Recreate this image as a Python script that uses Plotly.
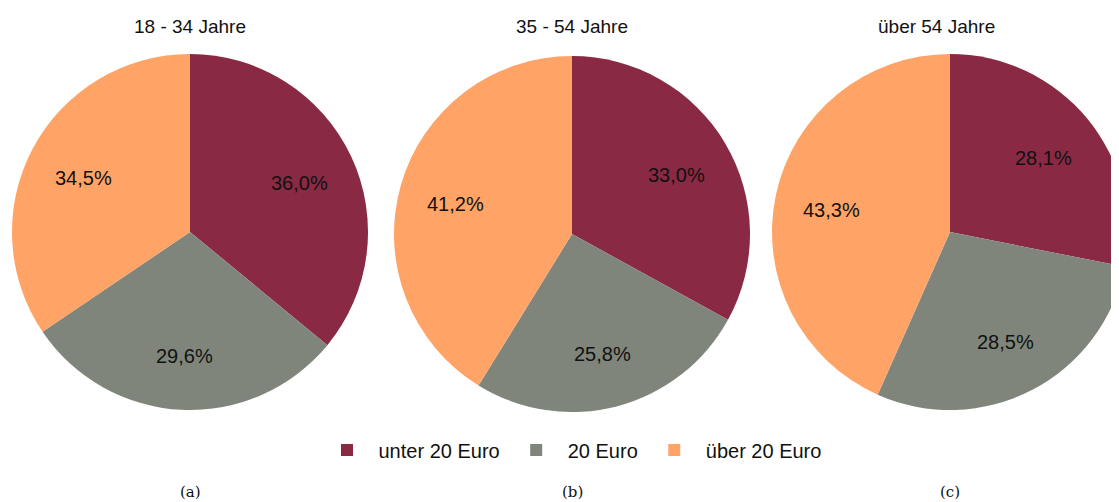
import math
import plotly.graph_objects as go

# Figure canvas (page has an 8px body margin, so figure px = page px - 8)
W, H = 1140, 502

categories = ["unter 20 Euro", "20 Euro", "über 20 Euro"]
groups = ["18 - 34 Jahre", "35 - 54 Jahre", "über 54 Jahre"]
subcaptions = ["(a)", "(b)", "(c)"]
values_18_34 = [36.0, 29.6, 34.5]
values_35_54 = [33.0, 25.8, 41.2]
values_54_plus = [28.1, 28.5, 43.3]
colors = ["#8A2944", "#7F857A", "#FFA366"]

all_values = [values_18_34, values_35_54, values_54_plus]

# pie geometry in figure pixels: (center x, center y, radius)
geoms = [(182, 224, 178), (564, 226, 178), (942, 224, 178)]
title_x = [182, 564, 928]
title_y = 19
caption_y = 484
label_r = 0.68

SANS = "Liberation Sans, Arial, Helvetica, sans-serif"

fig = go.Figure()
annotations = []
for i, (vals, (cx, cy, r)) in enumerate(zip(all_values, geoms)):
    labels_txt = [f"{v:.1f}%".replace(".", ",") for v in vals]
    fig.add_trace(go.Pie(
        labels=categories,
        values=vals,
        text=labels_txt,
        textinfo="none",
        marker=dict(colors=colors, line=dict(width=0)),
        sort=False,
        direction="clockwise",
        rotation=0,
        showlegend=(i == 0),
        hoverinfo="label+text",
        domain=dict(x=[(cx - r) / W, (cx + r) / W],
                    y=[(H - cy - r) / H, (H - cy + r) / H]),
    ))
    # percentage labels placed along each slice's bisector
    total = sum(vals)
    cum = 0.0
    for v, t in zip(vals, labels_txt):
        mid = (cum + v / 2) / total * 2 * math.pi
        cum += v
        lx = cx + label_r * r * math.sin(mid)
        ly = cy - label_r * r * math.cos(mid)
        annotations.append(dict(text=t, x=lx / W, y=1 - ly / H, xref="paper", yref="paper",
                                showarrow=False, xanchor="center", yanchor="middle", yshift=-3,
                                font=dict(family=SANS, size=20, color="#111111")))

for i, g in enumerate(groups):
    annotations.append(dict(text=g, x=title_x[i] / W, y=1 - title_y / H, xref="paper", yref="paper",
                            showarrow=False, xanchor="center", yanchor="middle",
                            font=dict(family=SANS, size=19, color="#111111")))
    annotations.append(dict(text=subcaptions[i], x=geoms[i][0] / W, y=1 - caption_y / H,
                            xref="paper", yref="paper",
                            showarrow=False, xanchor="center", yanchor="middle",
                            font=dict(family="DejaVu Serif, serif", size=15, color="#111111")))

fig.update_layout(
    width=W, height=H,
    margin=dict(l=0, r=0, t=0, b=0),
    paper_bgcolor="white", plot_bgcolor="white",
    annotations=annotations,
    legend=dict(orientation="h", x=563 / W, y=1 - 442 / H, xanchor="center", yanchor="middle",
                font=dict(family=SANS, size=20, color="#111111"),
                itemwidth=53, traceorder="normal"),
)

fig.write_html("out.html")
